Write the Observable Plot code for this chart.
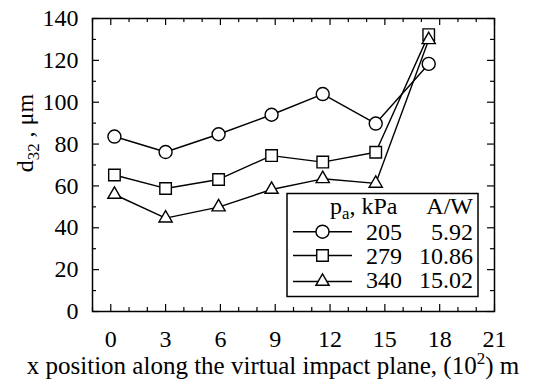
<!DOCTYPE html>
<html>
<head>
<meta charset="utf-8">
<script src="https://cdn.jsdelivr.net/npm/d3@7"></script>
<script src="https://cdn.jsdelivr.net/npm/@observablehq/plot@0.6"></script>
<style>
  html, body { margin: 0; padding: 0; background: white; }
  #chart svg { display: block; }
  #chart svg, #chart svg text { font-family: 'Liberation Serif', 'DejaVu Serif', serif !important; }
</style>
</head>
<body>
<div id="chart"></div>
<script>
// ---- data ----
const xPos = [0.2, 3.0, 5.9, 8.8, 11.6, 14.5, 17.4];
const d32_205 = [83.6, 76.2, 84.7, 94.0, 103.9, 89.8, 118.3];
const d32_279 = [65.2, 58.8, 63.1, 74.5, 71.4, 76.1, 132.3];
const d32_340 = [55.9, 44.6, 49.9, 58.3, 63.4, 61.2, 129.8];
const pressures = ["205", "279", "340"];
const awValues = ["5.92", "10.86", "15.02"];
const symbols = ["circle", "square", "triangle"];
const xTicks = [0, 3, 6, 9, 12, 15, 18, 21];
const xMinor = [-1, 1, 2, 4, 5, 7, 8, 10, 11, 13, 14, 16, 17, 19, 20];
const yTicks = [0, 20, 40, 60, 80, 100, 120, 140];
const yMinor = [10, 30, 50, 70, 90, 110, 130];

const series = [d32_205, d32_279, d32_340];
const data = series.flatMap((vals, i) =>
  xPos.map((x, j) => ({ x, y: vals[j], p: pressures[i], sym: symbols[i] })));

const W = 537, H = 389;
const mL = 92, mR = 43, mT = 18, mB = 78;
const innerH = H - mT - mB;
const innerW = W - mL - mR;
const FONT = "'Liberation Serif', 'DejaVu Serif', serif";
const FS = 24;
const MAJ = 7, MIN = 4;

const symR = { circle: 6.5, square: 6.5, triangle: 4.9 };

const marks = [
  Plot.tickX(xTicks, { x: d => d, insetTop: innerH - MAJ, stroke: "black", strokeWidth: 1.2 }),
  Plot.tickX(xMinor, { x: d => d, insetTop: innerH - MIN, stroke: "black", strokeWidth: 1.2 }),
  Plot.tickX(xTicks, { x: d => d, insetBottom: innerH - MAJ, stroke: "black", strokeWidth: 1.2 }),
  Plot.tickX(xMinor, { x: d => d, insetBottom: innerH - MIN, stroke: "black", strokeWidth: 1.2 }),
  Plot.tickY(yTicks, { y: d => d, insetRight: innerW - MAJ, stroke: "black", strokeWidth: 1.2 }),
  Plot.tickY(yMinor, { y: d => d, insetRight: innerW - MIN, stroke: "black", strokeWidth: 1.2 }),
  Plot.tickY(yTicks, { y: d => d, insetLeft: innerW - MAJ, stroke: "black", strokeWidth: 1.2 }),
  Plot.tickY(yMinor, { y: d => d, insetLeft: innerW - MIN, stroke: "black", strokeWidth: 1.2 }),
  Plot.frame({ stroke: "black", strokeWidth: 1.5 }),
  Plot.axisX({ ticks: xTicks, tickSize: 0, tickPadding: 18, label: null, fontSize: FS, tickFormat: d => String(d) }),
  Plot.axisY({ ticks: yTicks, tickSize: 0, tickPadding: 14, label: null, fontSize: FS, tickFormat: d => String(d) }),
  Plot.line(data, { x: "x", y: "y", z: "p", stroke: "black", strokeWidth: 1.4 })
];
symbols.forEach(s => {
  marks.push(Plot.dot(data.filter(d => d.sym === s), {
    x: "x", y: "y", symbol: s, r: symR[s], fill: "white", stroke: "black", strokeWidth: 1.4
  }));
});

const chart = Plot.plot({
  width: W, height: H,
  marginLeft: mL, marginRight: mR, marginTop: mT, marginBottom: mB,
  x: { domain: [-1, 21] },
  y: { domain: [0, 140] },
  style: { fontFamily: FONT, fontSize: FS + "px", background: "white", color: "black", overflow: "visible" },
  marks
});
document.getElementById("chart").appendChild(chart);

// ---- axis titles and legend (text with sub/superscripts) ----
const svg = d3.select(chart);
const ns = svg.append("g").style("font-family", FONT).attr("fill", "black");

// x title
const xt = ns.append("text").attr("x", 273).attr("y", 374)
  .attr("text-anchor", "middle").attr("font-size", 25);
xt.append("tspan").text("x position along the virtual impact plane, (10");
xt.append("tspan").attr("font-size", 17).attr("dy", -10).text("2");
xt.append("tspan").attr("dy", 10).text(") m");

// y title
const yt = ns.append("text").attr("transform", "translate(33,133) rotate(-90)")
  .attr("text-anchor", "middle").attr("font-size", FS);
yt.append("tspan").text("d");
yt.append("tspan").attr("font-size", FS * 0.7).attr("dy", 6).text("32");
yt.append("tspan").attr("dy", -6).text(" , \u03bcm");

// legend
const lg = ns.append("g");
lg.append("rect").attr("x", 287).attr("y", 193.5).attr("width", 191).attr("height", 103)
  .attr("fill", "white").attr("stroke", "black").attr("stroke-width", 1.5);
const hd = lg.append("text").attr("x", 330).attr("y", 213.5).attr("text-anchor", "start").attr("font-size", FS);
hd.append("tspan").text("p");
hd.append("tspan").attr("font-size", FS * 0.7).attr("dy", 5).text("a");
hd.append("tspan").attr("dy", -5).text(", kPa");
lg.append("text").attr("x", 473).attr("y", 213.5).attr("text-anchor", "end").attr("font-size", FS).text("A/W");
const symType = { circle: d3.symbolCircle, square: d3.symbolSquare, triangle: d3.symbolTriangle };
const rowY = [231.7, 255.5, 281.5];
const rowBase = [239.5, 263.5, 288];
pressures.forEach((p, i) => {
  lg.append("line").attr("x1", 293).attr("x2", 352).attr("y1", rowY[i]).attr("y2", rowY[i])
    .attr("stroke", "black").attr("stroke-width", 1.4);
  const r = symR[symbols[i]];
  lg.append("path").attr("d", d3.symbol().type(symType[symbols[i]]).size(Math.PI * r * r)())
    .attr("transform", `translate(322.5,${rowY[i]})`)
    .attr("fill", "white").attr("stroke", "black").attr("stroke-width", 1.4);
  lg.append("text").attr("x", 402).attr("y", rowBase[i]).attr("text-anchor", "end").attr("font-size", FS).text(p);
  lg.append("text").attr("x", 473).attr("y", rowBase[i]).attr("text-anchor", "end").attr("font-size", FS).text(awValues[i]);
});
</script>
</body>
</html>
